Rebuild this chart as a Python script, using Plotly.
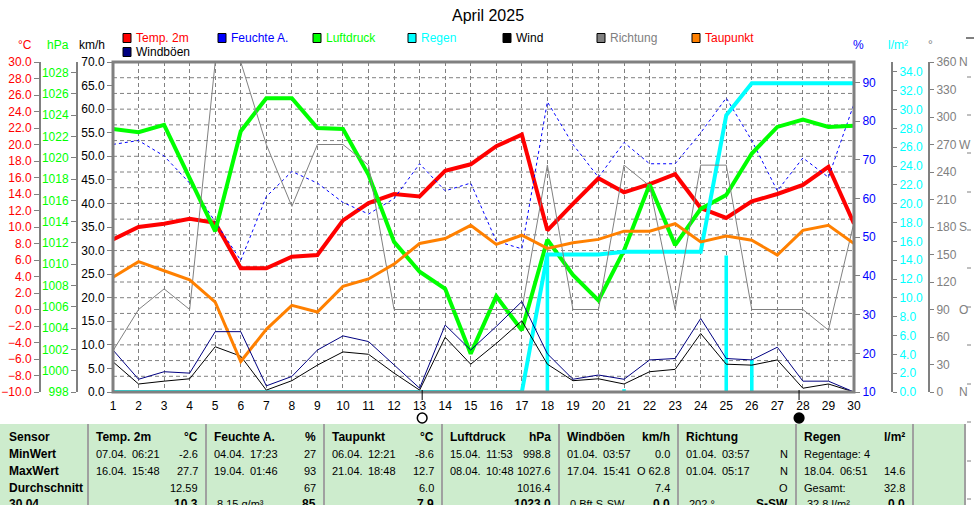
import plotly.graph_objects as go

W, H = 974, 505
FONT = "Liberation Sans, Arial, sans-serif"

# ---------------- data ----------------
days = list(range(1, 31))
temp_2m = [8.5, 10.0, 10.4, 11.0, 10.5, 5.0, 5.0, 6.4, 6.6, 10.8, 12.9, 14.0, 13.7, 16.8, 17.6,
           19.8, 21.2, 9.6, 12.8, 15.9, 14.2, 15.2, 16.4, 12.3, 11.1, 13.1, 14.0, 15.1, 17.3, 10.4]
humidity = [74, 75, 71, 64, 54, 44, 60.5, 67, 64, 59, 56, 60, 69, 62, 64,
            49, 47, 85, 74, 65.5, 74.5, 69, 69, 77, 86, 75, 62, 70.5, 65.5, 84.5]
pressure = [1022.7, 1022.4, 1023.1, 1018.1, 1013.1, 1022.5, 1025.6, 1025.6, 1022.8, 1022.7,
            1018.4, 1012.1, 1009.3, 1007.7, 1001.6, 1007.0, 1003.8, 1012.3, 1009.0, 1006.6,
            1011.3, 1017.5, 1011.8, 1015.2, 1016.5, 1020.4, 1022.9, 1023.6, 1022.9, 1023.0]
rain_daily = [0, 0, 0, 0, 0, 0, 0, 0, 0, 0, 0, 0, 0, 0, 0, 0, 0, 14.6, 0, 0,
              0.3, 0, 0, 0, 14.5, 3.4, 0, 0, 0, 0]
rain_total = [0, 0, 0, 0, 0, 0, 0, 0, 0, 0, 0, 0, 0, 0, 0, 0, 0, 14.6, 14.6, 14.6,
              14.9, 14.9, 14.9, 14.9, 29.4, 32.8, 32.8, 32.8, 32.8, 32.8]
wind = [6.4, 1.7, 2.3, 2.8, 9.6, 7.6, 0.4, 2.4, 5.7, 8.5, 8.0, 4.0, 0.4, 11.6, 5.9,
        10.3, 15.1, 5.9, 2.4, 2.8, 1.7, 4.3, 4.8, 12.4, 5.9, 5.7, 6.8, 0.8, 1.7, 0.0]
direction = [45, 90, 112.5, 90, 360, 360, 270, 202.5, 270, 270, 247.5, 90, 90, 90, 90,
             90, 90, 247.5, 90, 90, 247.5, 225, 90, 247.5, 247.5, 90, 90, 90, 67.5, 185]
dew_point = [3.9, 5.8, 4.7, 3.6, 0.9, -6.3, -2.4, 0.5, -0.3, 2.8, 3.7, 5.5, 8.0, 8.6, 10.2,
             7.9, 9.0, 7.4, 8.1, 8.5, 9.5, 9.5, 10.4, 8.2, 8.9, 8.4, 6.6, 9.6, 10.2, 8.0]
gusts = [8.9, 2.7, 4.3, 4.0, 12.8, 12.8, 1.3, 3.3, 8.9, 11.9, 10.7, 5.7, 0.8, 14.2, 8.9,
         13.9, 19.2, 8.1, 2.7, 3.6, 2.7, 6.8, 7.1, 15.6, 7.1, 6.8, 9.5, 2.3, 2.3, 0.0]

moon_days = [13.1, 27.85]
moon_fill = ["white", "black"]   # full moon (open), new moon (filled)

dir_ticks = [0, 30, 60, 90, 120, 150, 180, 210, 240, 270, 300, 330, 360]
dir_letters = {0: "N", 90: "O", 180: "S", 270: "W", 360: "N"}

legend_names = ["Temp. 2m", "Feuchte A.", "Luftdruck", "Regen", "Wind", "Richtung", "Taupunkt", "Windböen"]
legend_box = ["#ff0000", "#0000ff", "#00ff00", "#00ffff", "#000000", "#808080", "#ff8000", "#000080"]
legend_txt = ["#ff0000", "#0000ff", "#00ff00", "#00ffff", "#000000", "#808080", "#ff0000", "#000000"]

row_labels = ["Sensor", "MinWert", "MaxWert", "Durchschnitt", "30.04"]
table_cols = ["Temp. 2m", "Feuchte A.", "Taupunkt", "Luftdruck", "Windböen", "Richtung", "Regen"]
table_units = ["°C", "%", "°C", "hPa", "km/h", "", "l/m²"]
min_when = ["07.04.|06:21", "04.04.|17:23", "06.04.|12:21", "15.04.|11:53", "01.04.|03:57", "01.04.|03:57", "Regentage: 4"]
min_val = ["-2.6", "27", "-8.6", "998.8", "0.0", "N", ""]
max_when = ["16.04.|15:48", "19.04.|01:46", "21.04.|18:48", "08.04.|10:48", "17.04.|15:41", "01.04.|05:17", "18.04.|06:51"]
max_val = ["27.7", "93", "12.7", "1027.6", "O 62.8", "N", "14.6"]
avg_note = ["", "", "", "", "", "", "Gesamt:"]
avg_val = ["12.59", "67", "6.0", "1016.4", "7.4", "O", "32.8"]
now_note = ["", "8.15 g/m³", "", "", "0 Bft S-SW", "202 °", "32.8 l/m²"]
now_val = ["10.3", "85", "7.9", "1023.0", "0.0", "S-SW", "0.0"]

# ---------------- geometry helpers ----------------
def fx(p):
    return p / W


def fy(p):
    return 1 - p / H


PX0, PX1, PY0, PY1 = 113, 854, 62, 392
dom_x = [fx(PX0), fx(PX1)]
dom_y = [fy(PY1), fy(PY0)]
GRAY = "#808080"

fig = go.Figure()

# draw order follows the legend order of the original
fig.add_trace(go.Scatter(x=days, y=temp_2m, yaxis="y", mode="lines",
                         line=dict(color="#ff0000", width=4)))
fig.add_trace(go.Scatter(x=days, y=humidity, yaxis="y2", mode="lines",
                         line=dict(color="#0000ff", width=1, dash="3px,3px")))
fig.add_trace(go.Scatter(x=days, y=pressure, yaxis="y3", mode="lines",
                         line=dict(color="#00ff00", width=4)))
fig.add_trace(go.Bar(x=days, y=rain_daily, yaxis="y4", width=0.14,
                     marker=dict(color="#00ffff", line=dict(width=0))))
fig.add_trace(go.Scatter(x=days, y=rain_total, yaxis="y4", mode="lines",
                         line=dict(color="#00ffff", width=4)))
fig.add_trace(go.Scatter(x=days, y=wind, yaxis="y5", mode="lines",
                         line=dict(color="#000000", width=1)))
fig.add_trace(go.Scatter(x=days, y=direction, yaxis="y6", mode="lines",
                         line=dict(color=GRAY, width=1)))
fig.add_trace(go.Scatter(x=days, y=dew_point, yaxis="y7", mode="lines",
                         line=dict(color="#ff8000", width=3)))
fig.add_trace(go.Scatter(x=days, y=gusts, yaxis="y8", mode="lines",
                         line=dict(color="#000080", width=1)))


def yax(color, **kw):
    base = dict(domain=dom_y, showgrid=False, zeroline=False, showline=True,
                linecolor=GRAY, linewidth=2, ticks="outside", ticklen=5, tickwidth=1,
                tickcolor=GRAY, automargin=False, fixedrange=True,
                tickfont=dict(family=FONT, size=12, color=color))
    base.update(kw)
    return base


fig.update_layout(
    width=W, height=H, autosize=False,
    margin=dict(l=0, r=0, t=0, b=0, pad=0),
    paper_bgcolor="white", plot_bgcolor="white",
    showlegend=False,
    xaxis=dict(domain=dom_x, range=[1, 30], tickvals=days, anchor="y",
               showgrid=True, gridcolor=GRAY, gridwidth=1, griddash="4px,3px",
               zeroline=False, showline=False, ticks="outside", ticklen=3,
               tickcolor="rgba(0,0,0,0)", automargin=False, fixedrange=True,
               tickfont=dict(family=FONT, size=12, color="black")),
    yaxis=yax("#ff0000", anchor="free", position=fx(40), side="left",
              range=[-10, 30], tick0=-10, dtick=2, tickformat=".1f"),
    yaxis2=yax("#0000ff", overlaying="y", anchor="x", side="right",
               range=[10, 95.3], tick0=10, dtick=10, showline=False),
    yaxis3=yax("#00ff00", overlaying="y", anchor="free", position=fx(77), side="left",
               range=[998, 1029], tick0=998, dtick=2),
    yaxis4=yax("#00ffff", overlaying="y", anchor="free", position=fx(892), side="right",
               range=[0, 35.06], tick0=0, dtick=2, tickformat=".1f", ticklen=4),
    yaxis5=yax("#000000", overlaying="y", anchor="x", side="left",
               range=[0, 70], tick0=0, dtick=5, tickformat=".1f", showline=False),
    yaxis6=yax(GRAY, overlaying="y", anchor="free", position=fx(929), side="right",
               range=[0, 360], tickvals=dir_ticks, ticktext=[str(v) for v in dir_ticks], ticklen=4),
    yaxis7=dict(overlaying="y", range=[-10, 30], visible=False, domain=dom_y, fixedrange=True),
    yaxis8=dict(overlaying="y", range=[0, 70], visible=False, domain=dom_y, fixedrange=True),
)

shapes = []
# horizontal dashed grid (21 divisions)
for k in range(1, 21):
    shapes.append(dict(type="line", xref="x domain", yref="y domain", x0=0, x1=1,
                       y0=k / 21, y1=k / 21, layer="below",
                       line=dict(color=GRAY, width=1, dash="4px,3px")))
# plot frame
shapes.append(dict(type="rect", xref="x domain", yref="y domain", x0=0, x1=1, y0=0, y1=1,
                   layer="above", line=dict(color=GRAY, width=3)))
# moon phase marks
for md, fill in zip(moon_days, moon_fill):
    shapes.append(dict(type="line", xref="x", yref="paper", x0=md, x1=md,
                       y0=fy(400), y1=fy(390), line=dict(color="black", width=1)))
    shapes.append(dict(type="circle", xref="x", yref="paper", x0=md - 0.19, x1=md + 0.19,
                       y0=fy(423), y1=fy(413), fillcolor=fill,
                       line=dict(color="black", width=1.5)))
# legend boxes
leg_x = [123, 218, 313, 408, 503, 597, 692, 123]
leg_y = [38, 38, 38, 38, 38, 38, 38, 52]
for i in range(len(legend_names)):
    shapes.append(dict(type="rect", xref="paper", yref="paper",
                       x0=fx(leg_x[i]), x1=fx(leg_x[i] + 8), y0=fy(leg_y[i] + 4.5), y1=fy(leg_y[i] - 4.5),
                       fillcolor=legend_box[i], line=dict(color="black", width=1)))
# table background
shapes.append(dict(type="rect", xref="paper", yref="paper", x0=0, x1=fx(965),
                   y0=0, y1=fy(424), fillcolor="#cdeccd", line=dict(width=0), layer="below"))
seps = [88, 206, 324, 442, 559, 678, 796, 913, 965]
for s in seps:
    shapes.append(dict(type="line", xref="paper", yref="paper", x0=fx(s), x1=fx(s),
                       y0=0, y1=fy(424), line=dict(color="#a0a0a0", width=2)))
# fragment of neighbouring chart at right edge
shapes.append(dict(type="line", xref="paper", yref="paper", x0=fx(966), x1=1,
                   y0=fy(38), y1=fy(38), line=dict(color=GRAY, width=2)))
for gy in [77, 115, 153, 192, 230, 268, 307, 345, 384, 422, 461, 499]:
    shapes.append(dict(type="line", xref="paper", yref="paper", x0=fx(967), x1=1,
                       y0=fy(gy), y1=fy(gy), line=dict(color=GRAY, width=1, dash="4px,3px")))
fig.update_layout(shapes=shapes)

ann = []


def txt(x, y, s, color="black", size=12, bold=False, xanchor="left", family=FONT):
    ann.append(dict(x=fx(x), y=fy(y), xref="paper", yref="paper",
                    text=f"<b>{s}</b>" if bold else s, showarrow=False,
                    xanchor=xanchor, yanchor="middle", borderpad=0,
                    font=dict(family=family, size=size, color=color)))


txt(488, 15, "April 2025", size=16, xanchor="center")
# units
txt(25, 45, "°C", "#ff0000", xanchor="center")
txt(58, 45, "hPa", "#00ff00", xanchor="center")
txt(92, 45, "km/h", "#000000", xanchor="center")
txt(858, 45, "%", "#0000ff", xanchor="center")
txt(898, 45, "l/m²", "#00ffff", xanchor="center")
txt(930, 45, "°", GRAY, xanchor="center")
# direction letters
for v, letter in dir_letters.items():
    ann.append(dict(x=fx(958), y=v, xref="paper", yref="y6", text=letter, showarrow=False,
                    xanchor="left", yanchor="middle", borderpad=0,
                    font=dict(family=FONT, size=12, color=GRAY)))
# legend text
for i in range(len(legend_names)):
    txt(leg_x[i] + 12, leg_y[i], legend_names[i], legend_txt[i])

# table
VAL = 11
rows_y = [437, 454, 471, 488, 504]
for r, lab in enumerate(row_labels):
    txt(8, rows_y[r], lab, bold=True)
for c in range(len(table_cols)):
    left = seps[c] + 7
    right = seps[c + 1] - 7
    txt(left, rows_y[0], table_cols[c], bold=True)
    if table_units[c]:
        txt(right, rows_y[0], table_units[c], bold=True, xanchor="right")
    for r, (when, val) in enumerate([(min_when[c], min_val[c]), (max_when[c], max_val[c])], start=1):
        if "|" in when:
            d, t = when.split("|")
            txt(left, rows_y[r], d, size=VAL)
            txt(left + 36, rows_y[r], t, size=VAL)
        else:
            txt(left, rows_y[r], when, size=VAL)
        if val:
            txt(right, rows_y[r], val, size=VAL, xanchor="right")
    if avg_note[c]:
        txt(left, rows_y[3], avg_note[c], size=VAL)
    txt(right, rows_y[3], avg_val[c], size=VAL, xanchor="right")
    if now_note[c]:
        txt(left + 3, rows_y[4], now_note[c], size=VAL)
    txt(right, rows_y[4], now_val[c], bold=True, xanchor="right")

fig.update_layout(annotations=ann)

fig.write_html("out.html", config={"displayModeBar": False},
               post_script="document.body.style.margin='0';")
